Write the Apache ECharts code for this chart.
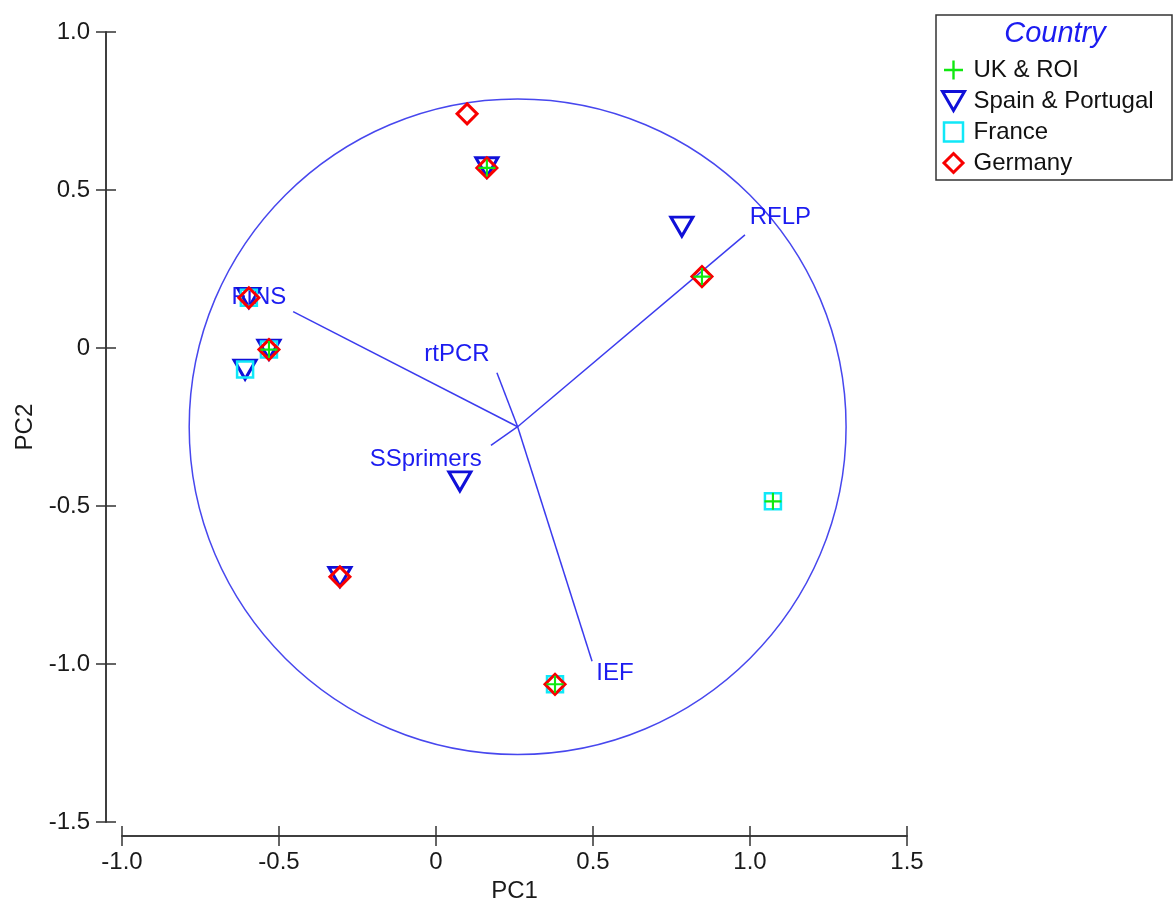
<!DOCTYPE html>
<html>
<head>
<meta charset="utf-8">
<script src="https://cdn.jsdelivr.net/npm/echarts@6/dist/echarts.min.js"></script>
<style>html,body{margin:0;padding:0;background:#fff}#c{width:1173px;height:908px}</style>
</head>
<body>
<div id="c"></div>
<script>
// ---- data ----
const countries = ['UK & ROI', 'Spain & Portugal', 'France', 'Germany'];
const ukPoints = [[0.162, 0.570], [0.847, 0.226], [-0.532, -0.005], [0.379, -1.064], [1.073, -0.485]];
const spainPoints = [[0.162, 0.572], [0.783, 0.384], [-0.596, 0.159], [-0.532, -0.005], [-0.608, -0.068], [0.076, -0.422], [-0.306, -0.724]];
const francePoints = [[-0.596, 0.159], [-0.532, -0.005], [-0.608, -0.068], [0.379, -1.064], [1.073, -0.485]];
const germanyPoints = [[0.099, 0.741], [0.162, 0.570], [0.847, 0.226], [-0.596, 0.159], [-0.532, -0.005], [-0.306, -0.724], [0.379, -1.064]];
const vectorOrigin = [0.26, -0.249];
const vectorNames = ['FINS', 'rtPCR', 'RFLP', 'SSprimers', 'IEF'];
const vectorEnds = [[-0.455, 0.115], [0.194, -0.078], [0.984, 0.358], [0.175, -0.308], [0.497, -0.991]];
const vectorLabelPos = [[-0.564, 0.160], [0.067, -0.021], [1.097, 0.415], [-0.033, -0.351], [0.570, -1.029]];
const circle = [[0.26, -0.249, 1.046, 1.037]]; // centre x, centre y, radius x, radius y
const xTicks = { min: -1.0, max: 1.5, step: 0.5 };
const yTicks = { min: -1.5, max: 1.0, step: 0.5 };

const FONT = '"Liberation Sans", Arial, sans-serif';
const AX = '#333';
const BLUE = '#1c1cf0';
const fmt = v => (Math.abs(v) < 1e-9 ? '0' : v.toFixed(1));

function mkXAxis(inside, show) {
  return {
    type: 'value', min: xTicks.min, max: xTicks.max, interval: xTicks.step,
    position: 'bottom', offset: 14,
    axisLine: { show: true, onZero: false, lineStyle: { color: AX, width: 1.5 } },
    axisTick: { show: true, inside: inside, length: 10, lineStyle: { color: AX, width: 1.5 } },
    axisLabel: { show: show, margin: 14, formatter: fmt, color: '#1a1a1a', fontSize: 24, fontFamily: FONT },
    splitLine: { show: false },
    name: show ? 'PC1' : '', nameLocation: 'middle', nameGap: 32,
    nameTextStyle: { color: '#1a1a1a', fontSize: 24, fontFamily: FONT }
  };
}
function mkYAxis(inside, show) {
  return {
    type: 'value', min: yTicks.min, max: yTicks.max, interval: yTicks.step,
    position: 'left', offset: 16,
    axisLine: { show: true, onZero: false, lineStyle: { color: AX, width: 1.5 } },
    axisTick: { show: true, inside: inside, length: 10, lineStyle: { color: AX, width: 1.5 } },
    axisLabel: { show: show, margin: 16, formatter: fmt, color: '#1a1a1a', fontSize: 24, fontFamily: FONT },
    splitLine: { show: false },
    name: show ? 'PC2' : '', nameLocation: 'middle', nameGap: 68,
    nameTextStyle: { color: '#1a1a1a', fontSize: 24, fontFamily: FONT }
  };
}

const hollow = (c, w) => ({ color: 'rgba(0,0,0,0)', borderColor: c, borderWidth: w, opacity: 1 });
const plusPath = 'path://M7,0h2v7h7v2h-7v7h-2v-7h-7v-2h7z';
const triPath = 'path://M0,0L22,0L11,19Z';
const sqPath = 'path://M0,0L10,0L10,10L0,10Z';
const diaPath = 'path://M10,0L20,10L10,20L0,10Z';

const series = [];
series.push({
  type: 'custom', data: circle, silent: true, z: 1,
  renderItem: function (params, api) {
    const c = api.coord([api.value(0), api.value(1)]);
    const s = api.size([api.value(2), api.value(3)]);
    return { type: 'ellipse', shape: { cx: c[0], cy: c[1], rx: s[0], ry: s[1] },
             style: { fill: 'none', stroke: '#4747ee', lineWidth: 1.5 } };
  }
});
vectorNames.forEach((n, i) => {
  series.push({
    type: 'line', name: 'vec_' + n, data: [vectorOrigin, vectorEnds[i]],
    symbol: 'none', silent: true, z: 2,
    lineStyle: { color: '#3b3bee', width: 1.5 }
  });
});
series.push({
  type: 'scatter', name: 'vecLabels', z: 3, silent: true,
  data: vectorNames.map((n, i) => ({ name: n, value: vectorLabelPos[i] })),
  symbol: 'circle', symbolSize: 1, itemStyle: { color: 'rgba(0,0,0,0)', opacity: 1 },
  label: { show: true, position: 'inside', formatter: '{b}', color: BLUE, fontSize: 24, fontFamily: FONT, opacity: 1 }
});
series.push({
  type: 'scatter', name: 'Spain & Portugal', data: spainPoints, z: 4,
  symbol: triPath, symbolSize: [22, 19], itemStyle: hollow('#1010d8', 3)
});
series.push({
  type: 'scatter', name: 'France', data: francePoints, z: 5,
  symbol: sqPath, symbolSize: 16, itemStyle: hollow('#10e8f8', 2.5)
});
series.push({
  type: 'scatter', name: 'Germany', data: germanyPoints, z: 6,
  symbol: diaPath, symbolSize: 20, itemStyle: hollow('#f80000', 3)
});
series.push({
  type: 'scatter', name: 'UK & ROI', data: ukPoints, z: 7,
  symbol: plusPath, symbolSize: 17, itemStyle: { color: '#10e810', opacity: 1 }
});

const option = {
  animation: false,
  backgroundColor: '#fff',
  grid: { left: 122, top: 32, width: 785, height: 791, containLabel: false },
  xAxis: [mkXAxis(false, true), mkXAxis(true, false)],
  yAxis: [mkYAxis(false, true), mkYAxis(true, false)],
  legend: {
    orient: 'vertical', left: 936, top: 53, padding: 5,
    itemWidth: 22, itemHeight: 19, itemGap: 7,
    data: [
      { name: 'UK & ROI', itemStyle: { borderWidth: 0 } },
      { name: 'Spain & Portugal', itemStyle: { borderWidth: 3 } },
      { name: 'France', itemStyle: { borderWidth: 2.5 } },
      { name: 'Germany', itemStyle: { borderWidth: 3 } }
    ],
    textStyle: { color: '#111', fontSize: 24, fontFamily: FONT, lineHeight: 22, padding: [0, 0, 0, 4] },
    selectedMode: false
  },
  graphic: [
    { type: 'rect', shape: { x: 936, y: 15, width: 236, height: 165 },
      style: { fill: 'none', stroke: '#333', lineWidth: 1.5 }, z: 10 },
    { type: 'text', x: 1055, y: 34, z: 10,
      style: { text: 'Country', fill: '#1c1cf0', font: 'italic 29px ' + FONT, textAlign: 'center', textVerticalAlign: 'middle' } }
  ],
  series: series
};
const chart = echarts.init(document.getElementById('c'), null, { renderer: 'canvas' });
chart.setOption(option);
</script>
</body>
</html>
